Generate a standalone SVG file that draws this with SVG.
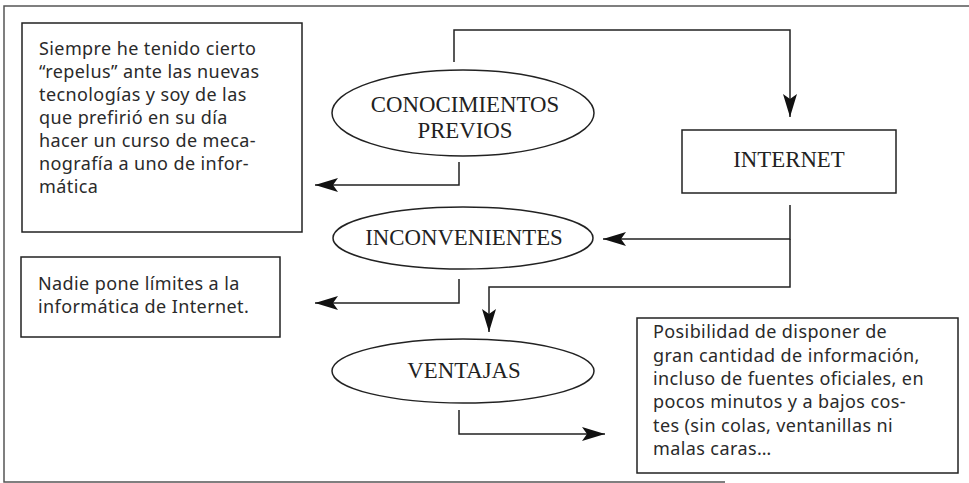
<svg xmlns="http://www.w3.org/2000/svg" width="969" height="483" viewBox="0 0 969 483">
<defs>
<style>
.frame{fill:none;stroke:#555;stroke-width:1.5}
.box{fill:#fff;stroke:#222;stroke-width:1.5}
.ell{fill:#fff;stroke:#222;stroke-width:1.5}
.con{fill:none;stroke:#222;stroke-width:1.5}
.body{font-family:"Noto Sans","Open Sans",sans-serif;font-size:18px;letter-spacing:0.4px;fill:#2a2a2a}
.lab{font-family:"Liberation Serif","Times New Roman",serif;font-size:22.8px;fill:#222;text-anchor:middle}
</style>
<marker id="ah" markerWidth="24" markerHeight="14" refX="23" refY="7" orient="auto" markerUnits="userSpaceOnUse">
<path d="M0,0 L23,7 L0,14 L5,7 Z" fill="#111"/>
</marker>
</defs>
<rect width="969" height="483" fill="#fff"/>
<path class="frame" d="M969,6 L4,6 L4,482 L725,482"/>

<g id="connectors">
<path class="con" d="M454,62 L454,30 L790,30 L790,117" marker-end="url(#ah)"/>
<path class="con" d="M790,205 L790,239 L603,239" marker-end="url(#ah)"/>
<path class="con" d="M790,239 L790,287 L489,287 L489,332" marker-end="url(#ah)"/>
<path class="con" d="M459,162 L459,185 L315,185" marker-end="url(#ah)"/>
<path class="con" d="M459,279 L459,303 L315,303" marker-end="url(#ah)"/>
<path class="con" d="M459,410 L459,434 L605,434" marker-end="url(#ah)"/>
</g>

<g id="box-repelus">
<rect class="box" x="22" y="23" width="280" height="209"/>
<text class="body" x="39" y="55">Siempre he tenido cierto</text>
<text class="body" x="39" y="78">“repelus” ante las nuevas</text>
<text class="body" x="39" y="101">tecnologías y soy de las</text>
<text class="body" x="39" y="124">que prefirió en su día</text>
<text class="body" x="39" y="147">hacer un curso de meca-</text>
<text class="body" x="39" y="170">nografía a uno de infor-</text>
<text class="body" x="39" y="193">mática</text>
</g>

<g id="conocimientos">
<ellipse class="ell" cx="463" cy="113" rx="131" ry="43"/>
<text class="lab" x="465" y="112">CONOCIMIENTOS</text>
<text class="lab" x="465" y="138">PREVIOS</text>
</g>

<g id="internet">
<rect class="box" x="682" y="130" width="214" height="63"/>
<text class="lab" x="789" y="167">INTERNET</text>
</g>

<g id="inconvenientes">
<ellipse class="ell" cx="463" cy="238" rx="130" ry="31"/>
<text class="lab" x="464" y="245">INCONVENIENTES</text>
</g>

<g id="box-nadie">
<rect class="box" x="21" y="257" width="259" height="80"/>
<text class="body" x="38" y="290">Nadie pone límites a la</text>
<text class="body" x="38" y="313">informática de Internet.</text>
</g>

<g id="ventajas">
<ellipse class="ell" cx="463" cy="371" rx="131" ry="32"/>
<text class="lab" x="464" y="378">VENTAJAS</text>
</g>

<g id="box-posibilidad">
<rect class="box" x="637" y="318" width="321" height="155"/>
<text class="body" x="653" y="338">Posibilidad de disponer de</text>
<text class="body" x="653" y="362">gran cantidad de información,</text>
<text class="body" x="653" y="385">incluso de fuentes oficiales, en</text>
<text class="body" x="653" y="408">pocos minutos y a bajos cos-</text>
<text class="body" x="653" y="432">tes (sin colas, ventanillas ni</text>
<text class="body" x="653" y="455">malas caras…</text>
</g>
</svg>
